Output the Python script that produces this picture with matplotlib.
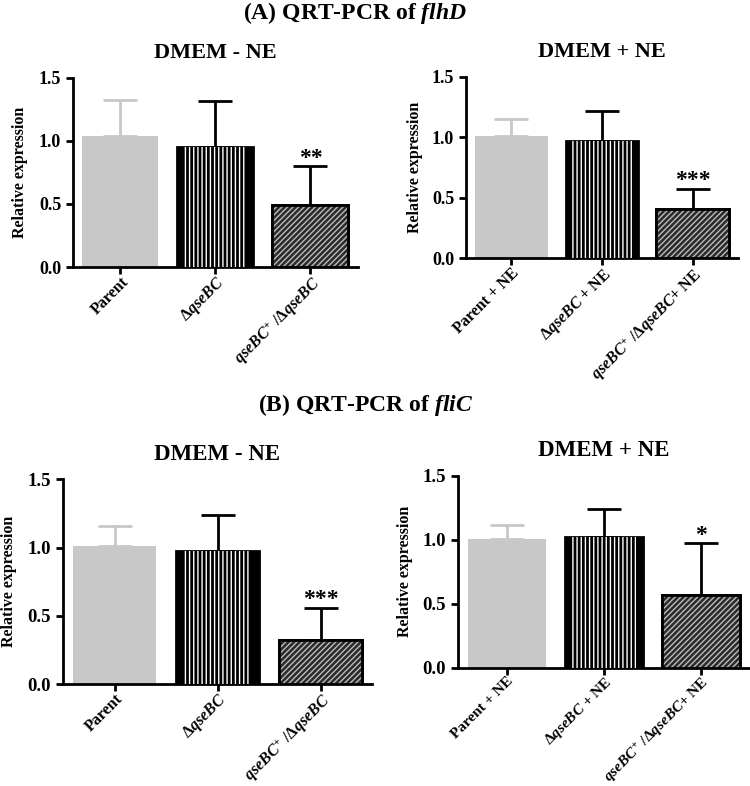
import matplotlib
matplotlib.use("Agg")
import matplotlib.pyplot as plt

plt.rcParams["font.family"] = ["Liberation Serif", "DejaVu Serif"]
plt.rcParams["font.weight"] = "bold"
plt.rcParams["mathtext.fontset"] = "custom"
plt.rcParams["mathtext.rm"] = "Liberation Serif:bold"
plt.rcParams["mathtext.it"] = "Liberation Serif:italic:bold"
plt.rcParams["mathtext.bf"] = "Liberation Serif:bold"
plt.rcParams["hatch.linewidth"] = 1.0

# data (mean and upper SD)
labels_minus = ["Parent", r"$\Delta qseBC$", r"$qseBC^{+}$ /$\Delta qseBC$"]
labels_plus = ["Parent + NE", r"$\Delta qseBC$ + NE", r"$qseBC^{+}$ /$\Delta qseBC$+ NE"]

flhd_minus = [1.04, 0.95, 0.49]
flhd_minus_sd = [0.28, 0.365, 0.31]
flhd_minus_stars = ["", "", "**"]

flhd_plus = [1.01, 0.97, 0.405]
flhd_plus_sd = [0.14, 0.25, 0.17]
flhd_plus_stars = ["", "", "***"]

flic_minus = [1.01, 0.975, 0.326]
flic_minus_sd = [0.15, 0.265, 0.234]
flic_minus_stars = ["", "", "***"]

flic_plus = [1.008, 1.023, 0.568]
flic_plus_sd = [0.107, 0.214, 0.406]
flic_plus_stars = ["", "", "*"]

yticks = [0.0, 0.5, 1.0, 1.5]


def draw_panel(ax, means, sds, stars, labels, title, fs, ylab_x, xfs):
    x = range(len(means))
    # parent: plain light grey
    ax.bar(0, means[0], width=0.8, color="#c8c8c8", edgecolor="#c8c8c8", linewidth=0, zorder=2)
    ax.errorbar(0, means[0], yerr=[[0], [sds[0]]], color="#c8c8c8", capsize=12,
                elinewidth=2, capthick=2, zorder=1)
    # deletion: black with white vertical stripes
    ax.bar(1, means[1], width=0.8, color="black", edgecolor="black", linewidth=2, zorder=2)
    ax.bar(1, means[1], width=0.66, color="none", edgecolor="white", hatch="||||", linewidth=0, zorder=3)
    ax.errorbar(1, means[1], yerr=[[0], [sds[1]]], color="black", capsize=12,
                elinewidth=2, capthick=2, zorder=1)
    # complemented: dark with fine diagonal hatch
    ax.bar(2, means[2], width=0.8, color="#2a2a2a", edgecolor="black", linewidth=2, zorder=2)
    ax.bar(2, means[2], width=0.8, color="none", edgecolor="#bbbbbb", hatch="//////", linewidth=0, zorder=3)
    ax.bar(2, means[2], width=0.8, color="none", edgecolor="black", linewidth=2, zorder=4)
    ax.errorbar(2, means[2], yerr=[[0], [sds[2]]], color="black", capsize=12,
                elinewidth=2, capthick=2, zorder=1)
    for i in x:
        if stars[i]:
            ax.text(i, means[i] + sds[i] - 0.02, stars[i], ha="center", va="bottom",
                    fontsize=17, fontweight="bold")
    ax.set_xlim(-0.5, 2.5)
    ax.set_ylim(0, 1.5)
    ax.set_yticks(yticks)
    ax.set_yticklabels(["%.1f" % t for t in yticks], fontsize=fs, fontweight="bold")
    ax.set_xticks(list(x))
    ax.set_xticklabels(labels, rotation=45, ha="right", rotation_mode="anchor",
                       fontsize=xfs, fontweight="bold")
    ax.set_ylabel("Relative expression", fontsize=11.5, fontweight="bold")
    ax.yaxis.set_label_coords(ylab_x, 0.5)
    ax.set_title(title, fontsize=fs + 3, fontweight="bold", pad=14)
    for s in ["top", "right"]:
        ax.spines[s].set_visible(False)
    for s in ["left", "bottom"]:
        ax.spines[s].set_linewidth(2)
    ax.tick_params(direction="out", width=2, length=5)
    ax.tick_params(axis="x", pad=0)


fig = plt.figure(figsize=(7.5, 7.86), dpi=100)
ax1 = fig.add_axes([0.0973, 0.6603, 0.38, 0.2408])
ax2 = fig.add_axes([0.6213, 0.6714, 0.3627, 0.231])
ax3 = fig.add_axes([0.084, 0.1294, 0.412, 0.2608])
ax4 = fig.add_axes([0.6107, 0.1505, 0.3893, 0.2443])

draw_panel(ax1, flhd_minus, flhd_minus_sd, flhd_minus_stars, labels_minus, "DMEM - NE", 13, -0.158, 11.5)
draw_panel(ax2, flhd_plus, flhd_plus_sd, flhd_plus_stars, labels_plus, "DMEM + NE", 13, -0.158, 11.5)
draw_panel(ax3, flic_minus, flic_minus_sd, flic_minus_stars, labels_minus, "DMEM - NE", 13.5, -0.148, 11.5)
draw_panel(ax4, flic_plus, flic_plus_sd, flic_plus_stars, labels_plus, "DMEM + NE", 13.5, -0.154, 11)

fig.text(0.473, 1 - 13 / 786, r"(A) QRT-PCR of $flhD$", ha="center", va="center",
         fontsize=17, fontweight="bold")
fig.text(0.488, 1 - 405 / 786, r"(B) QRT-PCR of $fliC$", ha="center", va="center",
         fontsize=17, fontweight="bold")

fig.savefig("out.png", dpi=100)
